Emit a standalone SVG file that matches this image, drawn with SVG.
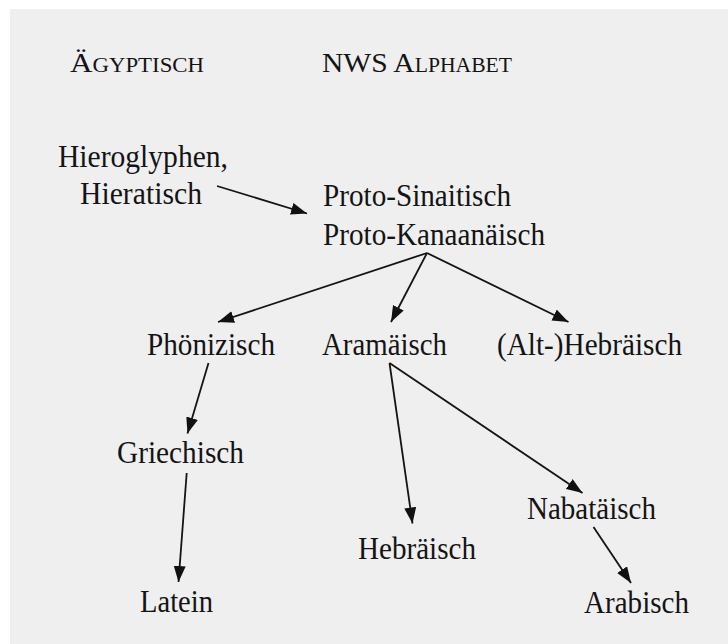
<svg xmlns="http://www.w3.org/2000/svg" width="728" height="644" viewBox="0 0 728 644">
<style>
.t{font-family:"Liberation Serif","Times New Roman",serif;font-size:32.5px;fill:#141414}
.h{font-family:"Liberation Serif","Times New Roman",serif;fill:#141414}
.c{stroke:#141414;stroke-width:1.8;fill:none;marker-end:url(#ah)}
</style>
<defs>
<marker id="ah" markerUnits="userSpaceOnUse" markerWidth="17" markerHeight="13" refX="16" refY="6" orient="auto">
<path d="M0,0 L16,6 L0,12 z" fill="#111"/>
</marker>
</defs>
<rect width="728" height="644" fill="#ffffff"/>
<rect x="10" y="9" width="718" height="635" fill="#efefef"/>
<g id="header-aegyptisch">
<text class="h" x="70" y="72" textLength="134" lengthAdjust="spacingAndGlyphs"><tspan font-size="28">Ä</tspan><tspan font-size="20.5">GYPTISCH</tspan></text>
</g>
<g id="header-nws">
<text class="h" x="322" y="72" textLength="190" lengthAdjust="spacingAndGlyphs"><tspan font-size="28">NWS A</tspan><tspan font-size="20.5">LPHABET</tspan></text>
</g>
<g id="hieroglyphen">
<text class="t" x="58" y="167" textLength="170" lengthAdjust="spacingAndGlyphs">Hieroglyphen,</text>
<text class="t" x="80" y="204" textLength="122" lengthAdjust="spacingAndGlyphs">Hieratisch</text>
</g>
<g id="proto">
<text class="t" x="323" y="206" textLength="188" lengthAdjust="spacingAndGlyphs">Proto-Sinaitisch</text>
<text class="t" x="323" y="245" textLength="222" lengthAdjust="spacingAndGlyphs">Proto-Kanaanäisch</text>
</g>
<g id="phoenizisch">
<text class="t" x="147" y="355" textLength="128" lengthAdjust="spacingAndGlyphs">Phönizisch</text>
</g>
<g id="aramaeisch">
<text class="t" x="322" y="355" textLength="125" lengthAdjust="spacingAndGlyphs">Aramäisch</text>
</g>
<g id="althebraeisch">
<text class="t" x="497" y="355" textLength="185" lengthAdjust="spacingAndGlyphs">(Alt-)Hebräisch</text>
</g>
<g id="griechisch">
<text class="t" x="117" y="463" textLength="127" lengthAdjust="spacingAndGlyphs">Griechisch</text>
</g>
<g id="latein">
<text class="t" x="140" y="612" textLength="73" lengthAdjust="spacingAndGlyphs">Latein</text>
</g>
<g id="hebraeisch">
<text class="t" x="358" y="559" textLength="118" lengthAdjust="spacingAndGlyphs">Hebräisch</text>
</g>
<g id="nabataeisch">
<text class="t" x="527" y="519" textLength="129" lengthAdjust="spacingAndGlyphs">Nabatäisch</text>
</g>
<g id="arabisch">
<text class="t" x="584" y="613" textLength="105" lengthAdjust="spacingAndGlyphs">Arabisch</text>
</g>
<g id="connectors">
<line class="c" x1="217" y1="186" x2="307" y2="213.5"/>
<line class="c" x1="427" y1="253" x2="218" y2="322"/>
<line class="c" x1="427" y1="253" x2="391" y2="322"/>
<line class="c" x1="427" y1="253" x2="568.5" y2="322"/>
<line class="c" x1="208.5" y1="363" x2="187.5" y2="433.5"/>
<line class="c" x1="186.7" y1="473" x2="178.5" y2="582"/>
<line class="c" x1="389.5" y1="363" x2="412.5" y2="523.5"/>
<line class="c" x1="389.5" y1="363" x2="582.5" y2="493"/>
<line class="c" x1="593.5" y1="527" x2="631" y2="583"/>
</g>
</svg>
